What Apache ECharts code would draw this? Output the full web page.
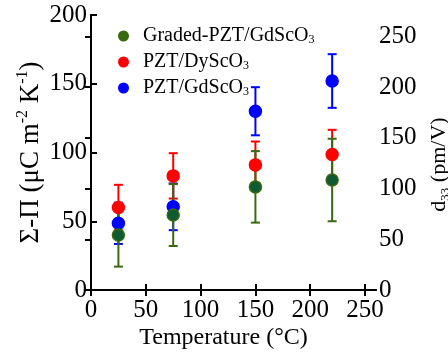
<!DOCTYPE html>
<html>
<head>
<meta charset="utf-8">
<script src="https://cdn.jsdelivr.net/npm/echarts@6/dist/echarts.min.js"></script>
<style>
  html, body { margin: 0; padding: 0; background: #fff; }
  #chart { width: 448px; height: 360px; }
</style>
</head>
<body>
<div id="chart"></div>
<script>
// temperatures (°C)
const temps = [25, 75, 150, 220]
// Σ-Π values and error half-widths
const gradedVals = [40, 54.5, 75, 80]
const gradedErr = [23, 22.5, 26, 30]
const dyVals = [60, 83, 91, 98.5]
const dyErr = [16.5, 16.5, 17, 18]
const gdVals = [48.5, 60.5, 130, 152]
const gdErr = [15, 17, 17.5, 19.5]
// tick labels
const xTicks = [0, 50, 100, 150, 200, 250]
const leftTicks = [0, 50, 100, 150, 200]
const rightTicks = [0, 50, 100, 150, 200, 250]

const FONT = "'Liberation Serif', serif"
const GREEN = "#3a6a10"

const chart = echarts.init(document.getElementById("chart"))

function errSeries(name, vals, errs, color, z) {
  return {
    type: "custom",
    name: name + " err",
    z: z,
    silent: true,
    data: temps.map((t, i) => [t, vals[i] - errs[i], vals[i] + errs[i]]),
    encode: { x: 0, y: [1, 2] },
    renderItem: function (params, api) {
      const lo = api.coord([api.value(0), api.value(1)])
      const hi = api.coord([api.value(0), api.value(2)])
      const w = 4.5
      const st = { stroke: color, lineWidth: 2 }
      return {
        type: "group",
        children: [
          { type: "line", shape: { x1: lo[0], y1: lo[1], x2: hi[0], y2: hi[1] }, style: st },
          { type: "line", shape: { x1: lo[0] - w, y1: lo[1], x2: lo[0] + w, y2: lo[1] }, style: st },
          { type: "line", shape: { x1: hi[0] - w, y1: hi[1], x2: hi[0] + w, y2: hi[1] }, style: st },
        ],
      }
    },
  }
}

function pointSeries(name, vals, fill, border, z) {
  return {
    type: "scatter",
    name: name,
    z: z,
    symbol: "circle",
    symbolSize: 12,
    data: temps.map((t, i) => [t, vals[i]]),
    itemStyle: { color: fill, borderColor: border, borderWidth: 1.5, opacity: 1 },
  }
}

const axisLine = { show: true, lineStyle: { color: "#000", width: 2 } }
const tickStyle = { color: "#000", width: 2 }
const labelStyle = { fontFamily: FONT, fontSize: 25, color: "#000" }

const legendNames = {
  "Graded-PZT/GdScO3": "Graded-PZT/GdScO{sub|3}",
  "PZT/DyScO3": "PZT/DyScO{sub|3}",
  "PZT/GdScO3": "PZT/GdScO{sub|3}",
}

const option = {
  animation: false,
  textStyle: { fontFamily: FONT },
  grid: { left: 91, right: 72, top: 15, bottom: 70, outerBoundsMode: "none", containLabel: false },
  legend: {
    orient: "vertical",
    left: 113,
    top: 21,
    itemWidth: 11,
    itemHeight: 11,
    itemGap: 6,
    icon: "circle",
    data: [
      { name: "Graded-PZT/GdScO3", itemStyle: { color: GREEN, borderWidth: 0 } },
      { name: "PZT/DyScO3", itemStyle: { color: "#ff0000", borderWidth: 0 } },
      { name: "PZT/GdScO3", itemStyle: { color: "#0000ff", borderWidth: 0 } },
    ],
    formatter: (name) => legendNames[name],
    textStyle: {
      fontFamily: FONT,
      fontSize: 20,
      color: "#000",
      lineHeight: 20,
      padding: [0, 0, 0, 9],
      rich: {
        sub: { fontFamily: FONT, fontSize: 12, color: "#000", verticalAlign: "bottom", lineHeight: 20 },
      },
    },
  },
  xAxis: [
    {
      type: "value",
      min: 0,
      max: 260,
      position: "bottom",
      name: "Temperature (°C)",
      nameLocation: "middle",
      nameGap: 36,
      nameMoveOverlap: false,
      nameTextStyle: { fontFamily: FONT, fontSize: 24, color: "#000", padding: [0, 20, 0, 0] },
      axisLine: axisLine,
      axisTick: { show: true, inside: true, length: 6, lineStyle: tickStyle, customValues: xTicks },
      axisLabel: Object.assign({ margin: 8, customValues: xTicks }, labelStyle),
      splitLine: { show: false },
    },
    {
      type: "value",
      min: 0,
      max: 260,
      position: "top",
      axisLine: axisLine,
      axisTick: { show: true, inside: true, length: 6, lineStyle: tickStyle, customValues: xTicks },
      axisLabel: { show: false },
      splitLine: { show: false },
    },
  ],
  yAxis: [
    {
      type: "value",
      min: 0,
      max: 200,
      position: "left",
      name: "{a|Σ-Π (μC m}{sup|-2}{a| K}{sup|-1}{a|)}",
      nameLocation: "middle",
      nameRotate: 90,
      nameGap: 44,
      nameMoveOverlap: false,
      nameTextStyle: {
        rich: {
          a: { fontFamily: FONT, fontSize: 27, color: "#000", lineHeight: 32 },
          sup: { fontFamily: FONT, fontSize: 16, color: "#000", verticalAlign: "top", lineHeight: 32 },
        },
      },
      axisLine: axisLine,
      axisTick: { show: true, inside: true, length: 6, lineStyle: tickStyle, customValues: leftTicks },
      axisLabel: Object.assign({ margin: 4, customValues: leftTicks }, labelStyle),
      splitLine: { show: false },
    },
    {
      type: "value",
      min: 0,
      max: 271,
      position: "right",
      name: "{a|d}{sub|33}{a| (pm/V)}",
      nameLocation: "middle",
      nameRotate: 90,
      nameGap: 50,
      nameMoveOverlap: false,
      nameTextStyle: {
        padding: [0, 24, 0, 0],
        rich: {
          a: { fontFamily: FONT, fontSize: 22, color: "#000", lineHeight: 26 },
          sub: { fontFamily: FONT, fontSize: 13, color: "#000", verticalAlign: "bottom", lineHeight: 26 },
        },
      },
      axisLine: axisLine,
      axisTick: { show: true, inside: true, length: 6, lineStyle: tickStyle, customValues: rightTicks },
      axisLabel: Object.assign({ margin: 3, customValues: rightTicks }, labelStyle),
      splitLine: { show: false },
    },
  ],
  series: [
    errSeries("PZT/GdScO3", gdVals, gdErr, "#0000ff", 2),
    errSeries("PZT/DyScO3", dyVals, dyErr, "#ff0000", 3),
    errSeries("Graded-PZT/GdScO3", gradedVals, gradedErr, GREEN, 4),
    pointSeries("PZT/GdScO3", gdVals, "#0000ff", "#0000ff", 5),
    pointSeries("PZT/DyScO3", dyVals, "#ff0000", "#ff0000", 6),
    pointSeries("Graded-PZT/GdScO3", gradedVals, "#0e5a32", GREEN, 7),
  ],
}

chart.setOption(option)
</script>
</body>
</html>
